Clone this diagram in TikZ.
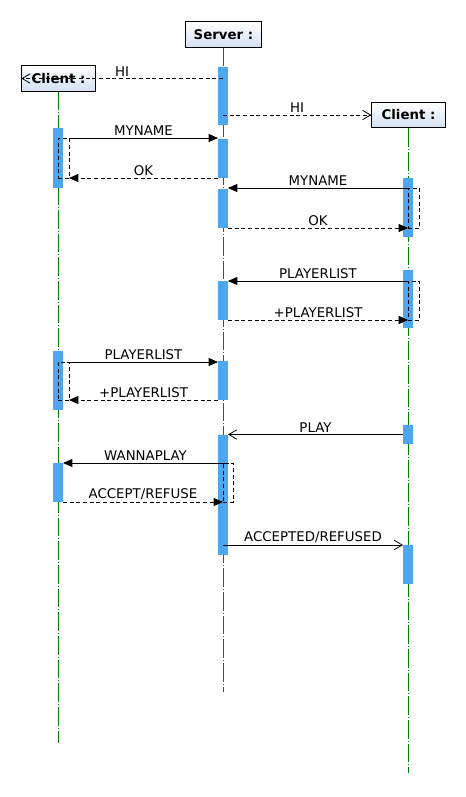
\documentclass[tikz,border=0pt]{standalone}
\usepackage{fontspec}
\setmainfont{DejaVu Sans}
\usepackage{tikz}
\usetikzlibrary{arrows.meta,positioning,fit}
\definecolor{lifegreen}{HTML}{008000}
\definecolor{barblue}{HTML}{4DA6F0}
\definecolor{boxblue}{HTML}{D3E1F3}
\tikzset{
    objbox/.style={draw=black,line width=0.75pt,top color=white,bottom color=boxblue,
      minimum height=19pt,inner sep=2pt,font=\bfseries\fontsize{10}{12}\selectfont},
    lifeline/.style={draw=lifegreen,line width=0.75pt,
      dash pattern=on 14pt off 1.5pt on 0.75pt off 1.5pt},
    actbar/.style={fill=barblue,draw=none,inner sep=0pt,outer sep=0pt},
    selfbox/.style={draw=black,line width=0.6pt,dash pattern=on 3pt off 2pt,
      inner sep=0pt,outer sep=0pt},
    call/.style={draw=black,line width=0.6pt,-{Triangle[length=7pt,width=6pt]}},
    reply/.style={call,dash pattern=on 3pt off 2pt},
    async/.style={draw=black,line width=0.6pt,-{Straight Barb[length=6pt,width=7pt]}},
    asyncreply/.style={async,dash pattern=on 3pt off 2pt},
    msglabel/.style={above,inner sep=1.5pt,font=\fontsize{10}{12}\selectfont}
}

\begin{document}
\begin{tikzpicture}[x=0.75pt,y=-0.75pt]
  \useasboundingbox (0,0) rectangle (466,797);
  % objects
  \node[objbox,minimum width=57pt] (srv) at (223.5,34.5) {Server :};
  \node[objbox,minimum width=55pt] (cl) at (58.5,78.5) {Client :};
  \node[objbox,minimum width=55pt] (cr) at (408.5,115) {Client :};
  \coordinate (srvend) at (223.5,692);
  \coordinate (clend) at (58.5,743);
  \coordinate (crend) at (408.5,773);
  \draw[lifeline] (srv.south) -- (srvend);
  \draw[lifeline] (cl.south) -- (clend);
  \draw[lifeline] (cr.south) -- (crend);
  % activation bars
  \node[actbar,fit={(218,67) (228,125)}] (s1) {};
  \node[actbar,fit={(218,139) (228,178)}] (s2) {};
  \node[actbar,fit={(218,189) (228,228)}] (s3) {};
  \node[actbar,fit={(218,281) (228,320)}] (s4) {};
  \node[actbar,fit={(218,361) (228,400)}] (s5) {};
  \node[actbar,fit={(218,435) (228,555)}] (s6) {};
  \node[actbar,fit={(53,128) (63,188)}] (l1) {};
  \node[actbar,fit={(53,351) (63,410)}] (l2) {};
  \node[actbar,fit={(53,463) (63,502)}] (l3) {};
  \node[actbar,fit={(403,178) (413,237)}] (r1) {};
  \node[actbar,fit={(403,270) (413,328)}] (r2) {};
  \node[actbar,fit={(403,425) (413,444)}] (r3) {};
  \node[actbar,fit={(403,545) (413,584)}] (r4) {};
  % self boxes
  \node[selfbox,fit={(58,138) (69,178)}] (lr1) {};
  \node[selfbox,fit={(58,362) (69,400)}] (lr2) {};
  \node[selfbox,fit={(408,188) (419,228)}] (rr1) {};
  \node[selfbox,fit={(408,281) (419,320)}] (rr2) {};
  \node[selfbox,fit={(223,463) (233,502)}] (sr) {};
  % messages
  \draw[asyncreply] (s1.center |- cl.west) -- node[msglabel] {HI} (cl.west);
  \draw[asyncreply] (s1.center |- cr.west) -- node[msglabel] {HI} (cr.west);
  \draw[call] (lr1.north east) -- node[msglabel] {MYNAME} (lr1.north east -| s2.west);
  \draw[reply] (s2.south west) -- node[msglabel] {OK} (s2.south west -| lr1.east);
  \draw[call] (rr1.north west) -- node[msglabel] {MYNAME} (rr1.north west -| s3.east);
  \draw[reply] (s3.south east) -- node[msglabel] {OK} (s3.south east -| rr1.west);
  \draw[call] (rr2.north west) -- node[msglabel] {PLAYERLIST} (rr2.north west -| s4.east);
  \draw[reply] (s4.south east) -- node[msglabel] {+PLAYERLIST} (s4.south east -| rr2.west);
  \draw[call] (lr2.north east) -- node[msglabel] {PLAYERLIST} (lr2.north east -| s5.west);
  \draw[reply] (s5.south west) -- node[msglabel] {+PLAYERLIST} (s5.south west -| lr2.east);
  \draw[async] (r3.west) -- node[msglabel] {PLAY} (r3.west -| s6.east);
  \draw[call] (s6.east |- sr.north) -- node[msglabel] {WANNAPLAY} (sr.north -| l3.east);
  \draw[reply] (l3.south east) -- node[msglabel] {ACCEPT/REFUSE} (l3.south east -| sr.west);
  \draw[async] (s6.center |- r4.north) -- node[msglabel] {ACCEPTED/REFUSED} (r4.north west);
\end{tikzpicture}
\end{document}
